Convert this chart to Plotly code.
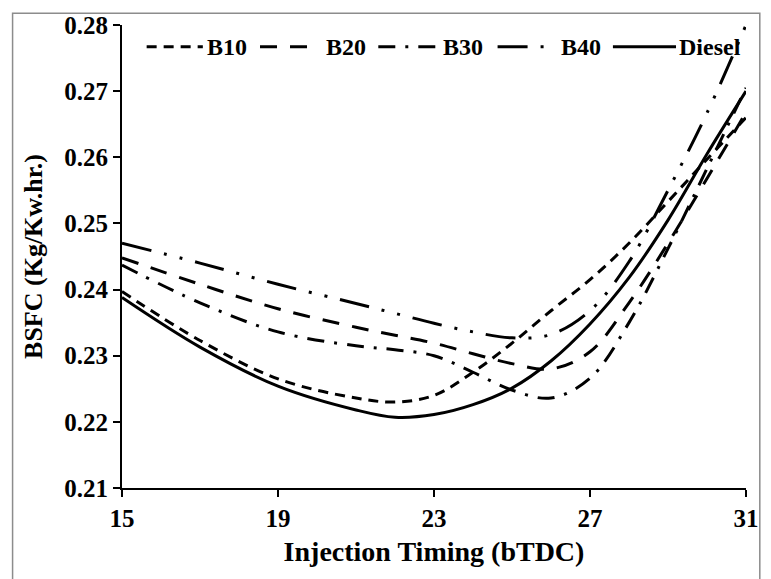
import plotly.graph_objects as go

timing = [15, 17, 19, 21, 22, 23, 24, 25, 26, 27, 28, 29, 30, 31]

# BSFC values (kg/kW.hr)
b10 = [0.2397, 0.2323, 0.2265, 0.2236, 0.2230, 0.2240, 0.2275, 0.2319, 0.2368, 0.2415, 0.2470, 0.2533, 0.2597, 0.2660]
b20 = [0.2448, 0.2408, 0.2371, 0.2343, 0.2331, 0.2319, 0.2303, 0.2288, 0.2280, 0.2306, 0.2380, 0.2470, 0.2568, 0.2668]
b30 = [0.2437, 0.2380, 0.2336, 0.2315, 0.2309, 0.2300, 0.2275, 0.2248, 0.2236, 0.2266, 0.2350, 0.2462, 0.2583, 0.2705]
b40 = [0.2470, 0.2440, 0.2408, 0.2379, 0.2364, 0.2349, 0.2336, 0.2327, 0.2332, 0.2368, 0.2442, 0.2550, 0.2667, 0.2800]
diesel = [0.2388, 0.2313, 0.2254, 0.2218, 0.2207, 0.2211, 0.2226, 0.2251, 0.2292, 0.2348, 0.2418, 0.2505, 0.2605, 0.2700]

series_names = ["B10", "B20", "B30", "B40", "Diesel"]
series_vals = [b10, b20, b30, b40, diesel]
dashes = ["10px,7px", "17px,13px", "17px,10px,3px,10px",
          "30px,13px,3px,13px,3px,13px", "solid"]

y_ticks = [0.21, 0.22, 0.23, 0.24, 0.25, 0.26, 0.27, 0.28]
x_ticks = [15, 19, 23, 27, 31]

FONT = "Liberation Serif"
L, R, T, B = 122, 16, 20, 91
W, H = 771, 579
PW, PH = W - L - R, H - T - B


def px_x(p):
    return (p - L) / PW


def px_y(p):
    return (H - B - p) / PH


fig = go.Figure()
for name, vals, dash in zip(series_names, series_vals, dashes):
    fig.add_trace(go.Scatter(
        x=timing, y=vals, name=name, mode="lines", showlegend=False,
        line=dict(color="black", width=3, dash=dash, shape="spline", smoothing=1),
    ))

# legend keys drawn as paper shapes + text, so the long dash patterns show
legend_key_px = [(147, 204), (262, 316), (382, 444), (503, 560), (620, 684)]
legend_text_px = [206, 327, 446, 565, 685]
legend_y_px = 42
shapes = [dict(type="rect", xref="paper", yref="paper",
               x0=px_x(11), x1=px_x(769), y0=-0.25, y1=px_y(8),
               line=dict(color="#8c8c8c", width=1.5), layer="below")]
annotations = []
for name, dash, (k0, k1), tx in zip(series_names, dashes, legend_key_px, legend_text_px):
    shapes.append(dict(type="line", xref="paper", yref="paper",
                       x0=px_x(k0), x1=px_x(k1), y0=px_y(legend_y_px), y1=px_y(legend_y_px),
                       line=dict(color="black", width=3, dash=dash)))
    annotations.append(dict(xref="paper", yref="paper", x=px_x(tx), y=px_y(legend_y_px),
                            xanchor="left", yanchor="middle", text=name, showarrow=False,
                            font=dict(family=FONT, size=24, weight="bold", color="black")))

fig.update_layout(
    width=W, height=H,
    margin=dict(l=L, r=R, t=T, b=B),
    paper_bgcolor="white", plot_bgcolor="white",
    font=dict(family=FONT, color="black", size=22, weight="bold"),
    showlegend=False,
    xaxis=dict(range=[15, 31], tickvals=x_ticks, ticktext=[str(v) for v in x_ticks],
               showgrid=False, zeroline=False, showline=True, linecolor="black", linewidth=2,
               ticks="outside", ticklen=7, tickwidth=2, tickcolor="black",
               tickfont=dict(family=FONT, size=25, weight="bold"),
               title=dict(text="Injection Timing (bTDC)", standoff=10,
                          font=dict(family=FONT, size=28, weight="bold"))),
    yaxis=dict(range=[0.21, 0.28], tickvals=y_ticks, ticktext=[f"{v:.2f}" for v in y_ticks],
               showgrid=False, zeroline=False, showline=True, linecolor="black", linewidth=2,
               ticks="outside", ticklen=7, tickwidth=2, tickcolor="black",
               tickfont=dict(family=FONT, size=25, weight="bold"),
               title=dict(text="BSFC (Kg/Kw.hr.)", standoff=14,
                          font=dict(family=FONT, size=26, weight="bold"))),
    shapes=shapes,
    annotations=annotations,
)

fig.write_html("out.html")
